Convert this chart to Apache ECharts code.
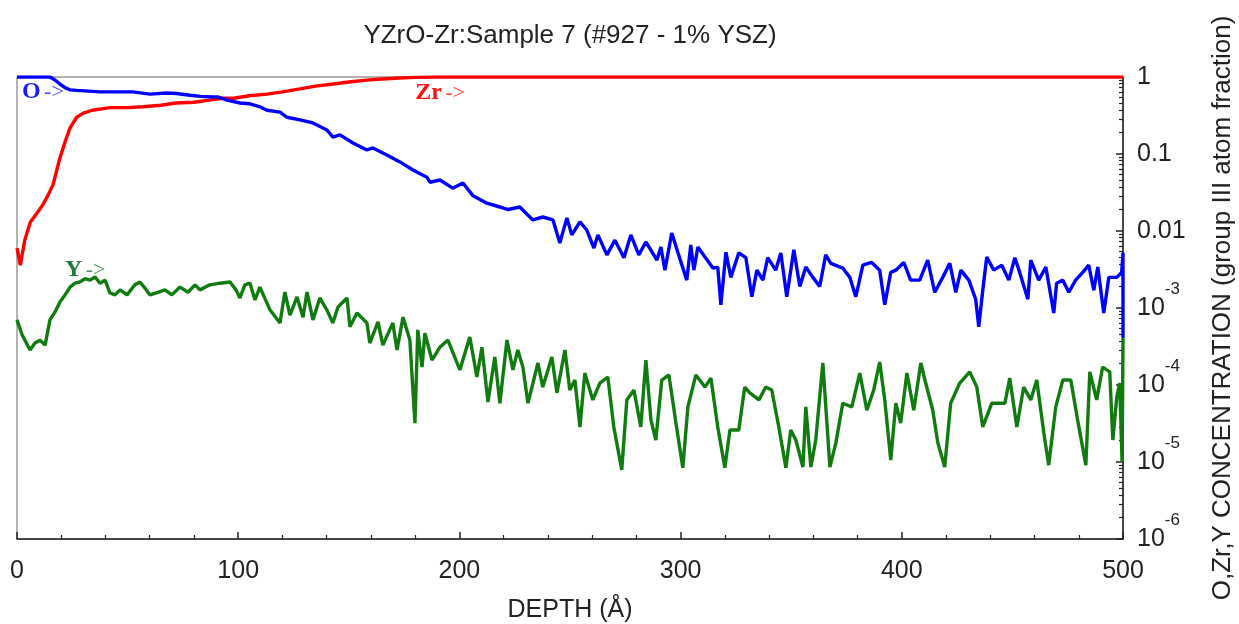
<!DOCTYPE html>
<html>
<head>
<meta charset="utf-8">
<script src="https://cdn.jsdelivr.net/npm/echarts@6/dist/echarts.min.js"></script>
<style>
html,body{margin:0;padding:0;background:#fff;}
#chart{width:1239px;height:624px;}
</style>
</head>
<body>
<div id="chart"></div>
<script>
// ---- DATA ----
const titleText = 'YZrO-Zr:Sample 7 (#927 - 1% YSZ)';
const xAxisName = 'DEPTH (Å)';
const yAxisName = 'O,Zr,Y CONCENTRATION (group III atom fraction)';
const xTicks = [0, 100, 200, 300, 400, 500];
const yTicks = [1e-6, 1e-5, 1e-4, 1e-3, 0.01, 0.1, 1];

const zrDepth = [0, 1.5, 3.5, 6, 9, 11.7, 14, 16.3, 18, 19.4, 22, 24, 27, 30, 34, 42, 50, 57, 65, 72, 80, 87, 93, 98, 105, 113, 120, 128, 135, 143, 150, 158, 165, 173, 180, 190, 500];
const zrConc  = [0.006, 0.0036, 0.0076, 0.013, 0.017, 0.022, 0.029, 0.040, 0.062, 0.089, 0.152, 0.218, 0.30, 0.34, 0.37, 0.40, 0.40, 0.41, 0.43, 0.46, 0.47, 0.50, 0.53, 0.53, 0.57, 0.60, 0.64, 0.70, 0.76, 0.81, 0.86, 0.91, 0.94, 0.97, 0.99, 1.0, 1.0];

const oDepth = [0, 10, 14.9, 17, 19.4, 22, 24, 27, 30.7, 37.5, 45, 52.4, 60.1, 67.8, 72, 78.2, 83, 88.6, 91, 94.9,
  100.8, 105, 109.8, 113, 118.9, 122, 127.9, 133.8, 140.1, 142.8, 146, 151.9, 158.2, 160.9, 167.2, 173.1, 179, 185.3, 186.7, 191.2,
  197, 201.6, 206, 212.4, 218.3, 222, 227.3, 233.2, 237.7, 242.3, 245.4, 248.6, 250.8, 254.5, 257.6, 260.8, 262.6, 266.7, 270.3, 274.4,
  277.5, 281.1, 284.3, 289.3, 291.1, 292.9, 296, 300.1, 302.8, 304.6, 306, 307.8, 311, 314.6, 316.8, 318.2, 320.5, 322.7, 326.3, 329.5,
  332.2, 334.5, 337.2, 339.4, 343, 345.3, 348, 351.2, 353.9, 356.6, 359.8, 362.9, 365.6, 367.9, 373.3, 376.5, 379.2, 382.4, 386.4, 390,
  392.3, 395, 397.3, 400.9, 404, 408.1, 411.7, 414.9, 418.5, 421.7, 424.4, 426.7, 430.3, 433.4, 434.8, 436.6, 438.4, 441.6, 445.2, 448.4,
  451.1, 453.3, 457, 458.3, 461.9, 465.1, 468.7, 470, 472.8, 475.5, 478.6, 481.8, 484.5, 486.8, 488.6, 491.3, 493.6, 497.2, 499.4, 500, 500];
const oConc = [1.0, 1.0, 1.0, 0.92, 0.81, 0.72, 0.68, 0.67, 0.66, 0.64, 0.64, 0.64, 0.60, 0.62, 0.61, 0.58, 0.56, 0.55, 0.55, 0.50,
  0.46, 0.45, 0.41, 0.37, 0.35, 0.30, 0.277, 0.253, 0.205, 0.166, 0.177, 0.139, 0.113, 0.120, 0.097, 0.079, 0.062, 0.050, 0.043, 0.046,
  0.036, 0.042, 0.029, 0.023, 0.0205, 0.019, 0.0205, 0.0139, 0.0152, 0.0139, 0.0070, 0.0148, 0.0089, 0.0131, 0.0103, 0.0060, 0.0089, 0.0049, 0.0076, 0.0045,
  0.0089, 0.0049, 0.0072, 0.0042, 0.0062, 0.0031, 0.0094, 0.0040, 0.0023, 0.0066, 0.0031, 0.0062, 0.0046, 0.0033, 0.0034, 0.0011, 0.0053, 0.0025, 0.0052, 0.0045,
  0.0014, 0.0031, 0.0023, 0.0045, 0.0031, 0.0052, 0.0014, 0.0057, 0.0019, 0.0034, 0.0025, 0.0019, 0.0049, 0.0038, 0.0033, 0.0025, 0.0014, 0.0036, 0.0039, 0.0031,
  0.0011, 0.0029, 0.0031, 0.0039, 0.0023, 0.0023, 0.0042, 0.0016, 0.0025, 0.0038, 0.0016, 0.0031, 0.0023, 0.0013, 0.00057, 0.0017, 0.0046, 0.0031, 0.0036, 0.0023,
  0.0045, 0.0029, 0.0013, 0.0042, 0.0023, 0.0034, 0.00086, 0.0021, 0.0023, 0.0016, 0.0023, 0.0029, 0.0036, 0.0017, 0.0034, 0.00086, 0.0025, 0.0025, 0.0029, 0.0052, 0.00041];

const yDepth = [0, 2.3, 5.9, 8.1, 10.4, 12.7, 14.9, 17.2, 19.4, 21.7, 24, 26.2, 28.5, 30.7, 33, 35.3, 37.5, 39.8, 42, 44.3,
  46.6, 49.7, 53.3, 55.6, 57.9, 60.1, 63.7, 66.9, 70, 73.7, 77.3, 80.5, 82.7, 87.2, 91.8, 96.3, 99, 100.8, 103, 105.3,
  107.6, 109.8, 114.4, 118.9, 121.1, 123.4, 126.6, 129.3, 131.1, 133.8, 136.9, 140.1, 142.8, 145.1, 149.2, 150.5, 153.7, 158.2, 159.5, 163.2,
  165.4, 169.9, 171.8, 174.5, 177.6, 179.9, 181.2, 183.1, 184.4, 187.6, 191.2, 194.8, 200.2, 204.7, 207.9, 210.2, 212.9, 216, 218.3, 221.5,
  224.2, 226.4, 228.7, 231, 235.5, 237.7, 241.8, 244.1, 247.7, 249.9, 252.2, 254.5, 256.7, 260.3, 263.5, 267.1, 269.8, 273.4, 275.7, 278.9,
  282, 284.3, 286.6, 288.8, 291.5, 294.7, 297.9, 301, 303.3, 306.9, 311, 313.7, 316.8, 320, 322.3, 326.3, 329, 331.3, 335.4, 338.5,
  341.2, 344.4, 347.6, 349.8, 352.1, 355.3, 356.6, 358.9, 361.1, 364.3, 367.5, 370.2, 373.3, 377.4, 381, 384.2, 387.3, 390, 392.3, 395,
  397.3, 399.5, 402.3, 405.4, 408.6, 410.8, 414, 416.3, 419.4, 422.1, 426.2, 430.7, 433.9, 436.6, 440.7, 446.6, 448.8, 452, 455.1, 458.3,
  461, 464.2, 466.4, 469.6, 472.8, 476.4, 479.5, 483.2, 485, 488.1, 490.8, 494, 495.4, 497.2, 498.5, 499.6, 500];
const yConc = [7.0e-4, 4.5e-4, 2.85e-4, 3.5e-4, 3.8e-4, 3.3e-4, 7.0e-4, 8.9e-4, 1.2e-3, 1.48e-3, 1.87e-3, 2.1e-3, 2.18e-3, 2.4e-3, 2.3e-3, 2.53e-3, 2.1e-3, 2.3e-3, 1.57e-3, 1.48e-3,
  1.72e-3, 1.48e-3, 2.0e-3, 2.18e-3, 1.8e-3, 1.48e-3, 1.6e-3, 1.72e-3, 1.48e-3, 1.87e-3, 1.6e-3, 2.0e-3, 1.72e-3, 2.0e-3, 2.1e-3, 2.18e-3, 1.72e-3, 1.35e-3, 2.0e-3, 2.11e-3,
  1.27e-3, 1.87e-3, 9.4e-4, 6.4e-4, 1.61e-3, 8.1e-4, 1.39e-3, 7.6e-4, 1.61e-3, 7.0e-4, 1.35e-3, 9.4e-4, 6.4e-4, 1.03e-3, 1.35e-3, 5.7e-4, 8.6e-4, 6.4e-4, 3.5e-4, 6.6e-4,
  3.3e-4, 6.4e-4, 2.85e-4, 7.6e-4, 3.84e-4, 3.2e-5, 5.2e-4, 1.71e-4, 4.7e-4, 2.11e-4, 3.1e-4, 3.84e-4, 1.57e-4, 4.2e-4, 1.27e-4, 3.1e-4, 6.0e-5, 2.31e-4, 5.8e-5, 3.84e-4,
  1.57e-4, 2.85e-4, 1.71e-4, 5.8e-5, 1.93e-4, 9.4e-5, 2.31e-4, 7.9e-5, 2.85e-4, 8.6e-5, 1.16e-4, 2.85e-5, 1.43e-4, 6.4e-5, 1.06e-4, 1.27e-4, 2.85e-5, 7.9e-6, 6.4e-5, 8.6e-5,
  2.85e-5, 2.11e-4, 3.5e-5, 1.93e-5, 1.16e-4, 1.35e-4, 3.2e-5, 8.4e-6, 5.2e-5, 1.35e-4, 9.4e-5, 1.23e-4, 2.85e-5, 8.4e-6, 2.6e-5, 2.6e-5, 9.4e-5, 7.9e-5, 6.4e-5, 9.4e-5,
  8.6e-5, 2.85e-5, 8.4e-6, 2.6e-5, 1.93e-5, 8.6e-6, 5.2e-5, 8.6e-6, 1.93e-5, 1.93e-4, 8.6e-6, 1.77e-5, 5.8e-5, 5.2e-5, 1.43e-4, 4.7e-5, 8.6e-5, 1.99e-4, 6.4e-5, 1.06e-5,
  5.8e-5, 3.2e-5, 1.43e-4, 4.7e-5, 1.93e-4, 1.06e-4, 4.7e-5, 1.77e-5, 8.6e-6, 5.8e-5, 1.06e-4, 1.48e-4, 9.4e-5, 2.85e-5, 5.8e-5, 5.8e-5, 1.23e-4, 2.85e-5, 9.4e-5, 6.4e-5,
  1.16e-4, 2.4e-5, 9.1e-6, 5.2e-5, 1.16e-4, 1.16e-4, 3.5e-5, 9.1e-6, 1.48e-4, 6.4e-5, 1.71e-4, 1.48e-4, 1.93e-5, 7.0e-5, 1.06e-4, 1.0e-5, 4.1e-4];

// label anchor positions (data units)
const oLabel = [2.3, 0.64];
const zrLabel = [180, 0.62];
const yLabel = [21.7, 3.1e-3];

// ---- CHART ----
const zip = (xs, ys) => xs.map((x, i) => [x, ys[i]]);
const SANS = '"Liberation Sans", Arial, sans-serif';
const SERIF = '"Liberation Serif", "Times New Roman", serif';
const TXT = '#222';

const chart = echarts.init(document.getElementById('chart'), null, {renderer: 'canvas'});

function tag(coord, color, text) {
  return {
    symbol: 'circle', symbolSize: 0, silent: true,
    data: [{coord: coord, value: text}],
    label: {
      show: true, position: 'right', distance: 0,
      formatter: '{a|' + text + '} {r|->}',
      rich: {
        a: {fontFamily: SERIF, fontWeight: 'bold', fontSize: 24, color: color},
        r: {fontFamily: SERIF, fontSize: 22, color: color, opacity: 0.8}
      }
    },
    itemStyle: {color: 'transparent'}
  };
}

chart.setOption({
  animation: false,
  backgroundColor: '#fff',
  title: {
    text: titleText, left: 570, top: 23, textAlign: 'center', padding: 0,
    textStyle: {fontFamily: SANS, fontWeight: 'normal', fontSize: 26, color: TXT}
  },
  grid: {
    left: 17, right: 116, top: 77, bottom: 85, containLabel: false, outerBoundsMode: 'none',
    show: true, borderColor: '#666', borderWidth: 1, backgroundColor: 'transparent'
  },
  xAxis: {
    type: 'value', min: xTicks[0], max: xTicks[xTicks.length - 1], interval: 100,
    name: xAxisName, nameLocation: 'middle', nameGap: 59,
    nameTextStyle: {fontFamily: SANS, fontSize: 25, color: TXT},
    axisLine: {show: true, onZero: false, lineStyle: {color: '#222', width: 1.5}},
    axisTick: {show: true, inside: true, length: 7, lineStyle: {color: '#222', width: 1.5}},
    minorTick: {show: true, splitNumber: 5, length: 4, lineStyle: {color: '#222', width: 1.2}},
    splitLine: {show: false},
    axisLabel: {fontFamily: SANS, fontSize: 25, color: TXT, margin: 20}
  },
  yAxis: {
    type: 'log', logBase: 10, min: yTicks[0], max: yTicks[yTicks.length - 1], position: 'right',
    name: yAxisName, nameLocation: 'middle', nameGap: 87, nameRotate: 90,
    nameTextStyle: {fontFamily: SANS, fontSize: 26, color: TXT},
    axisLine: {show: true, onZero: false, lineStyle: {color: '#222', width: 1.5}},
    axisTick: {show: true, inside: true, length: 7, lineStyle: {color: '#222', width: 1.5}},
    minorTick: {show: true, splitNumber: 10, length: 4, lineStyle: {color: '#222', width: 1.2}},
    splitLine: {show: false},
    axisLabel: {
      fontFamily: SANS, fontSize: 25, color: TXT, margin: 14,
      formatter: function (v) {
        if (v >= 0.01) return '{n|' + (v >= 1 ? '1' : String(+v.toPrecision(1))) + '}';
        const e = Math.round(Math.log10(v));
        return '{b|10}{s|' + e + '}';
      },
      rich: {
        n: {fontFamily: SANS, fontSize: 25, color: TXT},
        b: {fontFamily: SANS, fontSize: 25, color: TXT, lineHeight: 54, verticalAlign: 'middle'},
        s: {fontFamily: SANS, fontSize: 17, color: TXT, lineHeight: 17, verticalAlign: 'top'}
      }
    }
  },
  series: [
    {
      name: 'Y', type: 'line', data: zip(yDepth, yConc), showSymbol: false, symbol: 'none',
      lineStyle: {color: '#107c10', width: 3.4}, itemStyle: {color: '#107c10'}, z: 3,
      markPoint: tag(yLabel, '#1f7a3a', 'Y')
    },
    {
      name: 'Zr', type: 'line', data: zip(zrDepth, zrConc), showSymbol: false, symbol: 'none',
      lineStyle: {color: '#ff0000', width: 3.4}, itemStyle: {color: '#ff0000'}, z: 4,
      markPoint: tag(zrLabel, '#ff1010', 'Zr')
    },
    {
      name: 'O', type: 'line', data: zip(oDepth, oConc), showSymbol: false, symbol: 'none',
      lineStyle: {color: '#0000ff', width: 3.4}, itemStyle: {color: '#0000ff'}, z: 5,
      markPoint: tag(oLabel, '#1a1aff', 'O')
    }
  ]
});
</script>
</body>
</html>
